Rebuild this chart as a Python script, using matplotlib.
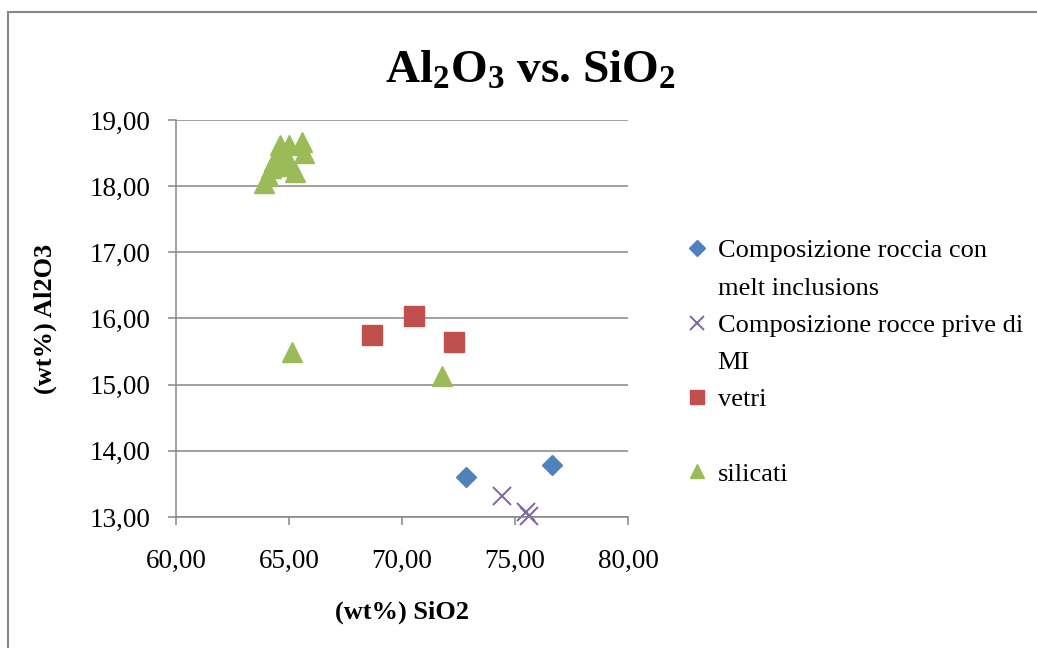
import matplotlib
matplotlib.use("Agg")
import matplotlib.pyplot as plt
from matplotlib.lines import Line2D
from matplotlib.patches import Rectangle
from matplotlib.ticker import FuncFormatter, MultipleLocator

plt.rcParams["font.family"] = ["Liberation Serif", "DejaVu Serif"]
plt.rcParams["mathtext.default"] = "regular"

# Composizione roccia con melt inclusions
roccia_mi_x = [72.82, 76.64]
roccia_mi_y = [13.60, 13.79]

# Composizione rocce prive di MI
roccia_nomi_x = [74.44, 75.47, 75.62]
roccia_nomi_y = [13.31, 13.07, 13.02]

# vetri
vetri_x = [68.66, 70.53, 72.30]
vetri_y = [15.75, 16.03, 15.65]

# silicati
silicati_x = [63.88, 64.05, 64.20, 64.35, 64.50, 64.60, 64.85, 65.01,
              64.90, 65.27, 65.56, 65.65, 65.15, 71.76]
silicati_y = [18.05, 18.15, 18.28, 18.38, 18.48, 18.62, 18.45, 18.62,
              18.30, 18.21, 18.67, 18.50, 15.50, 15.13]

GRID = "#868686"
BLUE = "#4F81BD"
PURPLE = "#8064A2"
RED = "#C0504D"
GREEN = "#9BBB59"

fig = plt.figure(figsize=(10.37, 6.48), dpi=100)
ax = fig.add_axes([0.1697, 0.2022, 0.4359, 0.6127])

ax.plot(roccia_mi_x, roccia_mi_y, ls="none", marker="D", ms=10.2,
        color=BLUE, mec=BLUE, clip_on=False)
ax.plot(roccia_nomi_x, roccia_nomi_y, ls="none", marker="x", ms=13.5,
        mew=1.4, color=PURPLE, clip_on=False)
ax.plot(vetri_x, vetri_y, ls="none", marker="s", ms=14.2, color=RED,
        mec=RED, clip_on=False)
ax.plot(silicati_x, silicati_y, ls="none", marker="^", ms=14, color=GREEN,
        mec=GREEN, clip_on=False)

ax.set_xlim(60, 80)
ax.set_ylim(13, 19)
ax.xaxis.set_major_locator(MultipleLocator(5))
ax.yaxis.set_major_locator(MultipleLocator(1))
fmt = FuncFormatter(lambda v, p: f"{v:.2f}".replace(".", ","))
ax.xaxis.set_major_formatter(fmt)
ax.yaxis.set_major_formatter(fmt)

ax.grid(axis="y", color=GRID, lw=1.1)
ax.set_axisbelow(True)
for side in ("top", "right"):
    ax.spines[side].set_visible(False)
for side in ("left", "bottom"):
    ax.spines[side].set_color(GRID)
    ax.spines[side].set_linewidth(1.1)
ax.tick_params(direction="out", length=6, width=1.1, color=GRID,
               labelsize=19.5)
ax.tick_params(axis="y", pad=12)
ax.tick_params(axis="x", pad=17)

ax.set_xlabel("(wt%) SiO2", fontsize=19, fontweight="bold", labelpad=19)
ax.set_ylabel("(wt%) Al2O3", fontsize=19, fontweight="bold", labelpad=24)

fig.text(0.512, 0.890, r"Al$_2$O$_3$ vs. SiO$_2$", fontsize=34,
         fontweight="bold", ha="center", va="center")

# legend: continuation lines as rows with empty handles
blank = Line2D([], [], ls="none", marker=None)
handles = [
    Line2D([], [], ls="none", marker="D", ms=10.2, color=BLUE),
    blank,
    Line2D([], [], ls="none", marker="x", ms=13.5, mew=1.4, color=PURPLE),
    blank,
    Line2D([], [], ls="none", marker="s", ms=14.2, color=RED),
    blank,
    Line2D([], [], ls="none", marker="^", ms=14, color=GREEN),
]
labels = ["Composizione roccia con", "melt inclusions",
          "Composizione rocce prive di", "MI", "vetri", "", "silicati"]
fig.legend(handles, labels, loc="upper left",
           bbox_to_anchor=(686 / 1037, 1 - 239 / 648),
           frameon=False, fontsize=19, markerscale=0.75, handlelength=0.8,
           handletextpad=0.4, labelspacing=0.52, borderpad=0,
           borderaxespad=0)

fig.add_artist(Rectangle((8 / 1037, -0.1), 1.2, 1 - 12 / 648 + 0.1,
                         transform=fig.transFigure, fill=False,
                         edgecolor=GRID, lw=1.5))

fig.savefig("out.png", dpi=100)
